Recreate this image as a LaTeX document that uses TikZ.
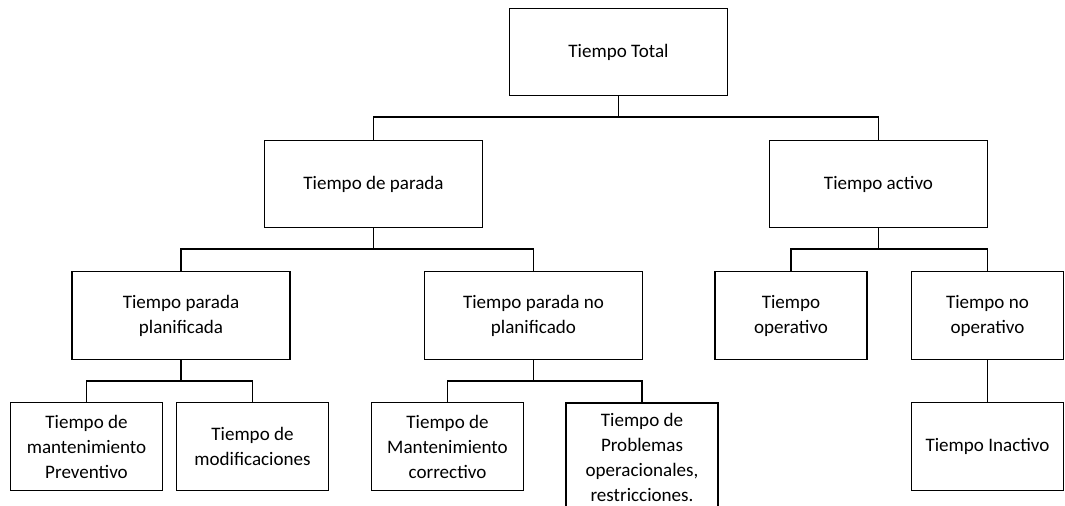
\documentclass[tikz,border=0pt]{standalone}
\usepackage{fontspec}
\setmainfont{Carlito}
\begin{document}
\begin{tikzpicture}[x=0.75pt,y=-0.75pt,
  box/.style={draw=black,line width=0.9pt,align=center,inner sep=2pt,minimum width=#1,minimum height=65.6pt,font=\fontsize{14.3}{18.75}\selectfont},
  box/.default=163.5pt,
  link/.style={draw=black,line width=0.9pt}]
\useasboundingbox (0,0) rectangle (1065,506);
\clip (0,0) rectangle (1065,506);
\coordinate (bus1) at (0,117);
\coordinate (bus2) at (0,249);
\coordinate (bus3) at (0,381);
\node[box] (total) at (618.5,52) {Tiempo Total};
\node[box] (parada) at (373.5,184) {Tiempo de parada};
\node[box] (activo) at (878.5,184) {Tiempo activo};
\node[box] (planif) at (181,315.5) {Tiempo parada\\planificada};
\node[box] (noplanif) at (533.5,315.5) {Tiempo parada no\\planificado};
\node[box=114pt] (operativo) at (791,315.5) {Tiempo\\operativo};
\node[box=114pt] (nooperativo) at (987.5,315.5) {Tiempo no\\operativo};
\node[box=114pt] (preventivo) at (86.5,446.5) {Tiempo de\\mantenimiento\\Preventivo};
\node[box=114pt] (modif) at (252.5,446.5) {Tiempo de\\modificaciones};
\node[box=114pt] (correctivo) at (447.5,446.5) {Tiempo de\\Mantenimiento\\correctivo};
\node[box=114pt,minimum height=81pt] (problemas) at (642,457) {Tiempo de\\Problemas\\operacionales,\\restricciones.};
\node[box=114pt] (inactivo) at (987.5,446.5) {Tiempo Inactivo};
\draw[link] (total.south) -- (total.south |- bus1);
\draw[link] (parada.north) |- (bus1 -| activo.north) -- (activo.north);
\draw[link] (parada.south) -- (parada.south |- bus2);
\draw[link] (planif.north) |- (bus2 -| noplanif.north) -- (noplanif.north);
\draw[link] (activo.south) -- (activo.south |- bus2);
\draw[link] (operativo.north) |- (bus2 -| nooperativo.north) -- (nooperativo.north);
\draw[link] (planif.south) -- (planif.south |- bus3);
\draw[link] (preventivo.north) |- (bus3 -| modif.north) -- (modif.north);
\draw[link] (noplanif.south) -- (noplanif.south |- bus3);
\draw[link] (correctivo.north) |- (bus3 -| problemas.north) -- (problemas.north);
\draw[link] (nooperativo) -- (inactivo);
\end{tikzpicture}
\end{document}
